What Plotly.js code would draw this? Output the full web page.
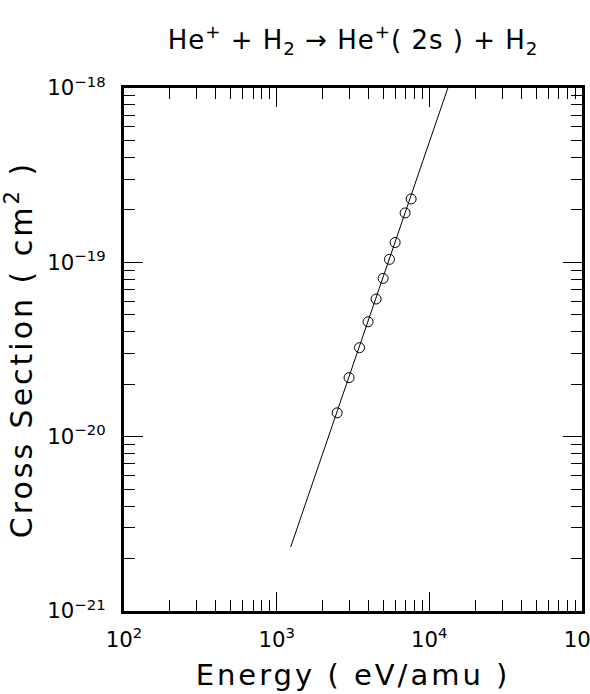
<!DOCTYPE html>
<html>
<head>
<meta charset="utf-8">
<script src="https://cdn.plot.ly/plotly-3.0.1.min.js"></script>
<style>
  html, body { margin: 0; padding: 0; background: #fff; }
  #chart { width: 590px; height: 694px; }
  .gtitle { letter-spacing: 1px; }
  .xtitle, .ytitle { letter-spacing: 3px; }
</style>
</head>
<body>
<div id="chart"></div>
<script>
// Measured data points (eV/amu, cm^2)
const energy = [2490, 2980, 3490, 3970, 4480, 4980, 5480, 5970, 6940, 7600];
const crossSection = [1.37e-20, 2.18e-20, 3.24e-20, 4.56e-20, 6.16e-20, 8.09e-20, 1.04e-19, 1.30e-19, 1.92e-19, 2.31e-19];

// Fitted curve
const fitEnergy = [1236, 2377, 13220];
const fitCross = [2.33e-21, 1.245e-20, 1.0e-18];

const titleText = 'He<sup>+</sup> + H<sub>2</sub> → He<sup>+</sup>( 2s ) + H<sub>2</sub>';
const xTitle = 'Energy ( eV/amu )';
const yTitle = 'Cross Section ( cm<sup>2</sup> )';

const traces = [
  {
    x: fitEnergy, y: fitCross, mode: 'lines',
    line: { color: 'black', width: 1 },
    hoverinfo: 'skip', showlegend: false
  },
  {
    x: energy, y: crossSection, mode: 'markers',
    marker: { symbol: 'circle-open', size: 10, color: 'black', line: { width: 1, color: 'black' } },
    showlegend: false
  }
];

const font = 'DejaVu Sans, sans-serif';

const axisCommon = {
  type: 'log',
  showgrid: false,
  zeroline: false,
  showline: true,
  linecolor: 'black',
  linewidth: 3,
  mirror: 'ticks',
  ticks: 'inside',
  ticklen: 19,
  tickwidth: 1,
  tickcolor: 'black',
  dtick: 1,
  exponentformat: 'power',
  ticklabeloverflow: 'allow',
  tickfont: { family: font, size: 17, color: 'black' },
  minor: { ticks: 'inside', ticklen: 11, tickwidth: 1, tickcolor: 'black', dtick: 'D1', showgrid: false },
  automargin: false
};

const layout = {
  width: 590, height: 694,
  margin: { l: 124, r: 8, t: 88, b: 83 },
  paper_bgcolor: 'white', plot_bgcolor: 'white',
  showlegend: false,
  font: { family: font, color: 'black' },
  title: {
    text: titleText,
    font: { family: font, size: 26, color: 'black' },
    xref: 'paper', x: 0.5, xanchor: 'center',
    yref: 'container', y: 1 - 40 / 694, yanchor: 'middle'
  },
  xaxis: Object.assign({}, axisCommon, {
    range: [2, 5],
    ticklabelstandoff: 8,
    title: { text: xTitle, font: { family: font, size: 29, color: 'black' }, standoff: 15 }
  }),
  yaxis: Object.assign({}, axisCommon, {
    range: [-21, -18],
    ticklabelstandoff: 12,
    title: { text: yTitle, font: { family: font, size: 30, color: 'black' }, standoff: 12 }
  })
};

Plotly.newPlot('chart', traces, layout, { displayModeBar: false, staticPlot: true });
</script>
</body>
</html>
